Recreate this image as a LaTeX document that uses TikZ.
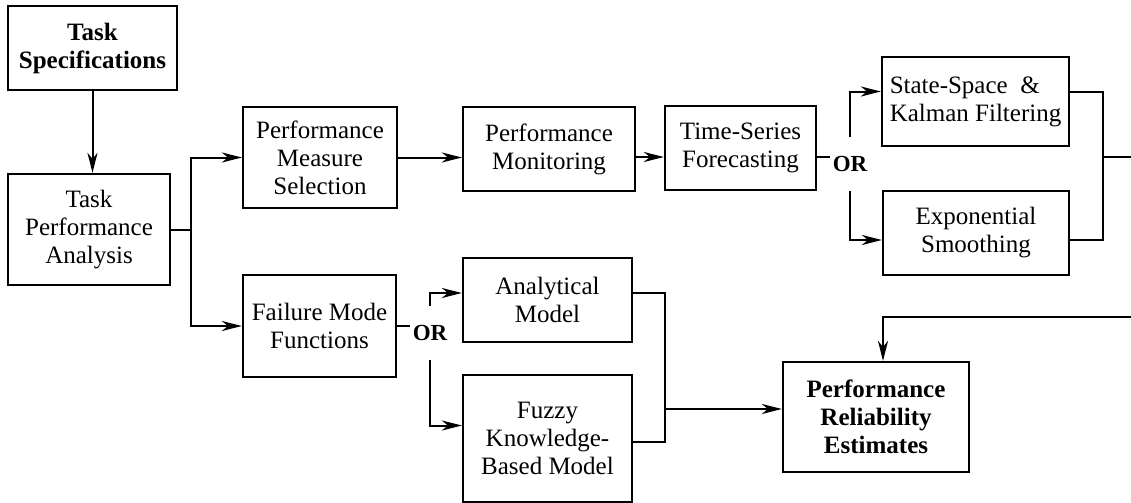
\documentclass[tikz,border=0pt]{standalone}
\usepackage{fontspec}
\setmainfont{Liberation Serif}
\usetikzlibrary{arrows.meta}
\usetikzlibrary{calc}
\tikzset{
  task box/.style = {draw, line width=1.1pt, align=center, inner sep=1pt}
}
\tikzset{
  title box/.style = {task box, font = \fontsize{12.5}{14}\selectfont\bfseries}
}
\tikzset{
  or label/.style = {font = \fontsize{11.5}{13}\selectfont\bfseries, inner xsep=1pt, inner ysep=9pt}
}
\tikzset{
  every node/.style = {font = \fontsize{12.5}{14}\selectfont}
}
\tikzset{
    >={Stealth[length=10pt, width=5pt, inset=3pt]}
}

\begin{document}
\begin{tikzpicture}[x=0.5pt, y=-0.5pt, line width=1pt]
  \useasboundingbox (0,0) rectangle (1131,503);

  \node[title box, minimum width=84.5pt, minimum height=42pt] (spec) at (92.5,48) {Task\\Specifications};
  \node[task box, minimum width=81pt, minimum height=55.5pt] (tpa) at (89,229.5) {Task\\Performance\\Analysis};

  % upper branch
  \node[task box, minimum width=77pt, minimum height=50.5pt] (pms) at (320,157.5) {Performance\\Measure\\Selection};
  \node[task box, minimum width=86pt, minimum height=42pt] (mon) at (549,149) {Performance\\Monitoring};
  \node[task box, minimum width=75.5pt, minimum height=42pt] (tsf) at (740.5,148) {Time-Series\\Forecasting};
  \node[or label] (or1) at (850,164) {OR};
  \node[task box, align=left, minimum width=93.5pt, minimum height=44.5pt] (kal) at (975.5,101.5) {State-Space~~\&\\Kalman Filtering};
  \node[task box, minimum width=93pt, minimum height=42pt] (exp) at (976,233) {Exponential\\Smoothing};

  % lower branch
  \node[task box, minimum width=76.5pt, minimum height=51pt] (fmf) at (319.5,326) {Failure Mode\\Functions};
  \node[or label] (or2) at (430,333) {OR};
  \node[task box, minimum width=84.5pt, minimum height=42pt] (ana) at (547.5,300) {Analytical\\Model};
  \node[task box, minimum width=84.5pt, minimum height=63.5pt] (fuz) at (547.5,438.5) {Fuzzy\\Knowledge-\\Based Model};
  \node[title box, minimum width=93pt, minimum height=55pt] (pre) at (876,417) {Performance\\Reliability\\Estimates};

  \coordinate (j2) at (1103,157);
  \coordinate (out) at (1131,157);
  \coordinate (in) at (1131,317);
  \coordinate (j3) at (665,409);

  \draw[->] (spec) -- (spec |- tpa.north);
  \draw (tpa.east) -- ++(20,0) coordinate (j1);
  \draw[->] (j1) |- (pms);
  \draw[->] (j1) |- (fmf);

  \draw[->] (pms) -- (pms -| mon.west);
  \draw[->] ([yshift=-4pt]mon.east) -- ([yshift=-4pt]mon.east -| tsf.west);
  \draw ([yshift=-4.5pt]tsf.east) -- ([yshift=-4.5pt]tsf.east -| or1.west);
  \draw[->] (or1.north) |- ([yshift=5pt]kal.west);
  \draw[->] (or1.south) |- ([yshift=-3.5pt]exp.west);
  \draw ([yshift=5pt]kal.east) -| (j2) |- ([yshift=-3.5pt]exp.east);
  \draw (j2) -- (out);

  \draw (fmf) -- (fmf -| or2.west);
  \draw[->] (or2.north) |- ([yshift=3.5pt]ana.west);
  \draw[->] (or2.south) |- ([yshift=6.5pt]fuz.west);
  \draw ([yshift=3.5pt]ana.east) -| (j3) |- ([yshift=-1.75pt]fuz.east);
  \draw[->] (j3) -- (j3 -| pre.west);
  \draw[->] (in) -| ([xshift=3.5pt]pre.north);
\end{tikzpicture}
\end{document}
